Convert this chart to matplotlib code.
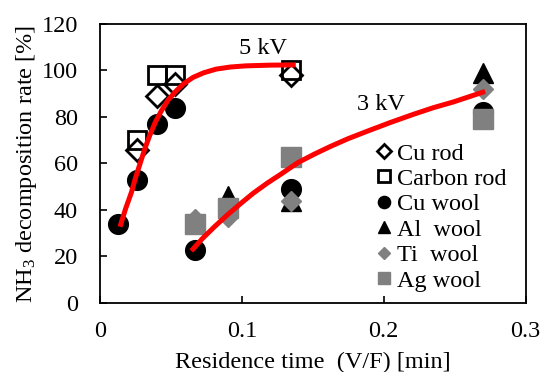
import matplotlib
matplotlib.use("Agg")
import matplotlib.pyplot as plt

plt.rcParams['font.family'] = ['Liberation Serif', 'DejaVu Serif']
plt.rcParams['mathtext.fontset'] = 'custom'
plt.rcParams['mathtext.rm'] = 'Liberation Serif'
plt.rcParams['mathtext.default'] = 'regular'

# Data (residence time [min], decomposition rate [%])
cu_rod_x = [0.026, 0.040, 0.053, 0.135]
cu_rod_y = [66, 89, 94, 98]
carbon_rod_x = [0.026, 0.040, 0.053, 0.135]
carbon_rod_y = [70, 98, 98, 100]
cu_wool_x = [0.013, 0.026, 0.040, 0.053, 0.067, 0.135, 0.270]
cu_wool_y = [34, 53, 77, 84, 23, 49, 82]
al_wool_x = [0.067, 0.090, 0.135, 0.270]
al_wool_y = [35, 46, 44, 99]
ti_wool_x = [0.067, 0.090, 0.135, 0.270]
ti_wool_y = [36, 37, 44, 92]
ag_wool_x = [0.067, 0.090, 0.135, 0.270]
ag_wool_y = [34, 41, 63, 79]

# Fitted curves
fit5_x = [0.0141, 0.018, 0.0221, 0.025, 0.028, 0.0315, 0.035, 0.039, 0.0432, 0.048, 0.0538,
          0.059, 0.0655, 0.073, 0.0819, 0.092, 0.103, 0.120, 0.138]
fit5_y = [32.8, 40.5, 47.5, 53.8, 59.5, 66.2, 72.0, 77.8, 82.6, 87.3, 91.3,
          94.3, 97.0, 99.0, 100.6, 101.5, 102.0, 102.3, 102.4]
fit3_x = [0.0644, 0.072, 0.0807, 0.090, 0.0994, 0.108, 0.118, 0.128, 0.1393, 0.151, 0.1627,
          0.175, 0.1885, 0.205, 0.2212, 0.235, 0.2493, 0.2715]
fit3_y = [22.4, 27.6, 32.8, 38.0, 42.9, 47.2, 51.6, 55.6, 60.3, 64.0, 67.4,
          70.7, 73.9, 77.7, 81.2, 84.0, 86.5, 91.0]

fig = plt.figure(figsize=(5.43, 3.72), dpi=100)
ax = fig.add_axes([0.1842, 0.1855, 0.7836, 0.75])

gray = '#808080'
fs = 17.5
ax.plot(cu_rod_x, cu_rod_y, linestyle='none', marker='D', ms=11, mfc='none', mec='black', mew=2.0, label='Cu rod')
ax.plot(carbon_rod_x, carbon_rod_y, linestyle='none', marker='s', ms=13.5, mfc='none', mec='black', mew=2.0, label='Carbon rod')
ax.plot(cu_wool_x, cu_wool_y, linestyle='none', marker='o', ms=14.2, color='black', label='Cu wool')
ax.plot(al_wool_x, al_wool_y, linestyle='none', marker='^', ms=14, color='black', label='Al  wool')
ax.plot(ti_wool_x, ti_wool_y, linestyle='none', marker='D', ms=10.3, color=gray, label='Ti  wool')
ax.plot(ag_wool_x, ag_wool_y, linestyle='none', marker='s', ms=13.8, color=gray, label='Ag wool')

ax.plot(fit5_x, fit5_y, color='red', lw=3.6, solid_capstyle='butt', solid_joinstyle='round', zorder=5)
ax.plot(fit3_x, fit3_y, color='red', lw=3.6, solid_capstyle='butt', solid_joinstyle='round', zorder=5)

ax.text(0.115, 109.5, '5 kV', fontsize=fs, ha='center', va='center')
ax.text(0.198, 85.5, '3 kV', fontsize=fs, ha='center', va='center')

ax.set_xlim(0, 0.3)
ax.set_ylim(0, 120)
ax.set_xticks([0, 0.1, 0.2, 0.3])
ax.set_xticklabels(['0', '0.1', '0.2', '0.3'])
ax.set_yticks([0, 20, 40, 60, 80, 100, 120])
ax.tick_params(axis='both', direction='in', length=5, width=1.2, labelsize=fs)
ax.tick_params(axis='x', pad=13)
ax.tick_params(axis='y', pad=16)
for s in ax.spines.values():
    s.set_linewidth(1.3)

ax.set_xlabel('Residence time  (V/F) [min]', fontsize=fs, labelpad=7)
ax.set_ylabel('NH$_3$ decomposition rate [%]', fontsize=fs, labelpad=1.5)

leg = ax.legend(loc='upper left', bbox_to_anchor=(0.65, 0.575), frameon=False, fontsize=fs,
                markerscale=0.62, handlelength=0.6, handletextpad=0.25, labelspacing=0.14,
                borderaxespad=0, borderpad=0)

fig.savefig('out.png', dpi=100)
